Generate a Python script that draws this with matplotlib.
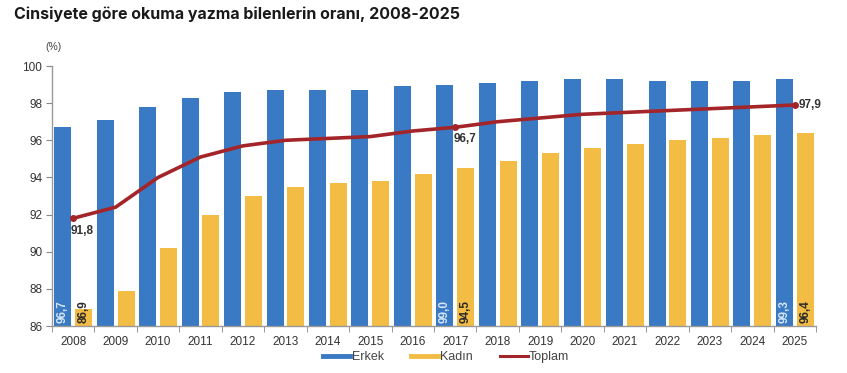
import matplotlib
matplotlib.use("Agg")
import matplotlib.pyplot as plt
from matplotlib.lines import Line2D
import numpy as np

years = ["2008", "2009", "2010", "2011", "2012", "2013", "2014", "2015", "2016",
         "2017", "2018", "2019", "2020", "2021", "2022", "2023", "2024", "2025"]
erkek = [96.7, 97.1, 97.8, 98.3, 98.6, 98.7, 98.7, 98.7, 98.9,
         99.0, 99.1, 99.2, 99.3, 99.3, 99.2, 99.2, 99.2, 99.3]
kadin = [86.9, 87.9, 90.2, 92.0, 93.0, 93.5, 93.7, 93.8, 94.2,
         94.5, 94.9, 95.3, 95.6, 95.8, 96.0, 96.1, 96.3, 96.4]
toplam = [91.8, 92.4, 94.0, 95.1, 95.7, 96.0, 96.1, 96.2, 96.5,
          96.7, 97.0, 97.2, 97.4, 97.5, 97.6, 97.7, 97.8, 97.9]
labeled_idx = [0, 9, 17]

BLUE = "#3a79c3"
YELLOW = "#f3bd45"
RED = "#a3252a"
FONT = ["Liberation Sans", "DejaVu Sans"]

def fmt(v):
    return f"{v:.1f}".replace(".", ",")

fig = plt.figure(figsize=(8.47, 3.73), dpi=100)
ax = fig.add_axes([52/847, 1-326/373, (816-52)/847, (326-66)/373])

x = np.arange(len(years))
w = 0.40
off = 0.245
ax.bar(x - off, [e - 86 for e in erkek], bottom=86, width=w, color=BLUE, zorder=2)
ax.bar(x + off, [k - 86 for k in kadin], bottom=86, width=w, color=YELLOW, zorder=2)
ax.plot(x, toplam, color=RED, lw=2.6, zorder=3, solid_capstyle="round",
        solid_joinstyle="round")
ax.plot([x[i] for i in labeled_idx], [toplam[i] for i in labeled_idx], "o",
        color=RED, ms=4, zorder=4)

for i in labeled_idx:
    ax.text(x[i] - off, 86.15, fmt(erkek[i]), rotation=90, ha="center", va="bottom",
            color="#d6e6f7", fontsize=8.5, fontweight="bold", family=FONT, zorder=5)
    ax.text(x[i] + off, 86.15, fmt(kadin[i]), rotation=90, ha="center", va="bottom",
            color="#2a2a2a", fontsize=8.5, fontweight="bold", family=FONT, zorder=5)

ax.annotate(fmt(toplam[0]), (x[0], toplam[0]), xytext=(-2, -5), textcoords="offset points",
            ha="left", va="top", fontsize=8.5, fontweight="bold", color="#333333", family=FONT)
ax.annotate(fmt(toplam[9]), (x[9], toplam[9]), xytext=(-1, -4), textcoords="offset points",
            ha="left", va="top", fontsize=8.5, fontweight="bold", color="#333333", family=FONT)
ax.annotate(fmt(toplam[17]), (x[17], toplam[17]), xytext=(3, 0), textcoords="offset points",
            ha="left", va="center", fontsize=8.5, fontweight="bold", color="#333333", family=FONT)

ax.set_xlim(-0.5, len(years) - 0.5)
ax.set_ylim(86, 100)
ax.set_yticks(np.arange(86, 101, 2))
ax.set_yticklabels([str(v) for v in range(86, 101, 2)], family=FONT, fontsize=8.5, color="#333333")
ax.set_xticks(x)
ax.set_xticklabels(years, family=FONT, fontsize=8.5, color="#333333")
ax.set_xticks(np.arange(-0.5, len(years), 1), minor=True)
ax.tick_params(axis="x", which="major", length=0, pad=7)
ax.tick_params(axis="x", which="minor", length=4, color="#888888", direction="out")
ax.tick_params(axis="y", length=4, color="#888888", pad=3)
for s in ["top", "right"]:
    ax.spines[s].set_visible(False)
for s in ["left", "bottom"]:
    ax.spines[s].set_color("#999999")
    ax.spines[s].set_linewidth(1.0)

fig.text(14/847, 1-14/373, "Cinsiyete göre okuma yazma bilenlerin oranı, 2008-2025",
         fontsize=11.5, fontweight="bold", family=["Inter", "DejaVu Sans"], color="#1a1a1a",
         ha="left", va="center")
fig.text(53/847, 1-47/373, "(%)", fontsize=7.5, family=FONT, color="#444444",
         ha="center", va="center")

handles = [Line2D([0], [0], color=BLUE, lw=3.5),
           Line2D([0], [0], color=YELLOW, lw=3.5),
           Line2D([0], [0], color=RED, lw=2.2)]
fig.legend(handles, ["Erkek", "Kadın", "Toplam"], loc="center",
           bbox_to_anchor=(446/847, 1-357/373), ncol=3, frameon=False,
           prop={"family": FONT, "size": 9}, handlelength=2.2, handletextpad=0.1,
           columnspacing=2.2, labelcolor="#444444")

fig.savefig("out.png", dpi=100, facecolor="white")
